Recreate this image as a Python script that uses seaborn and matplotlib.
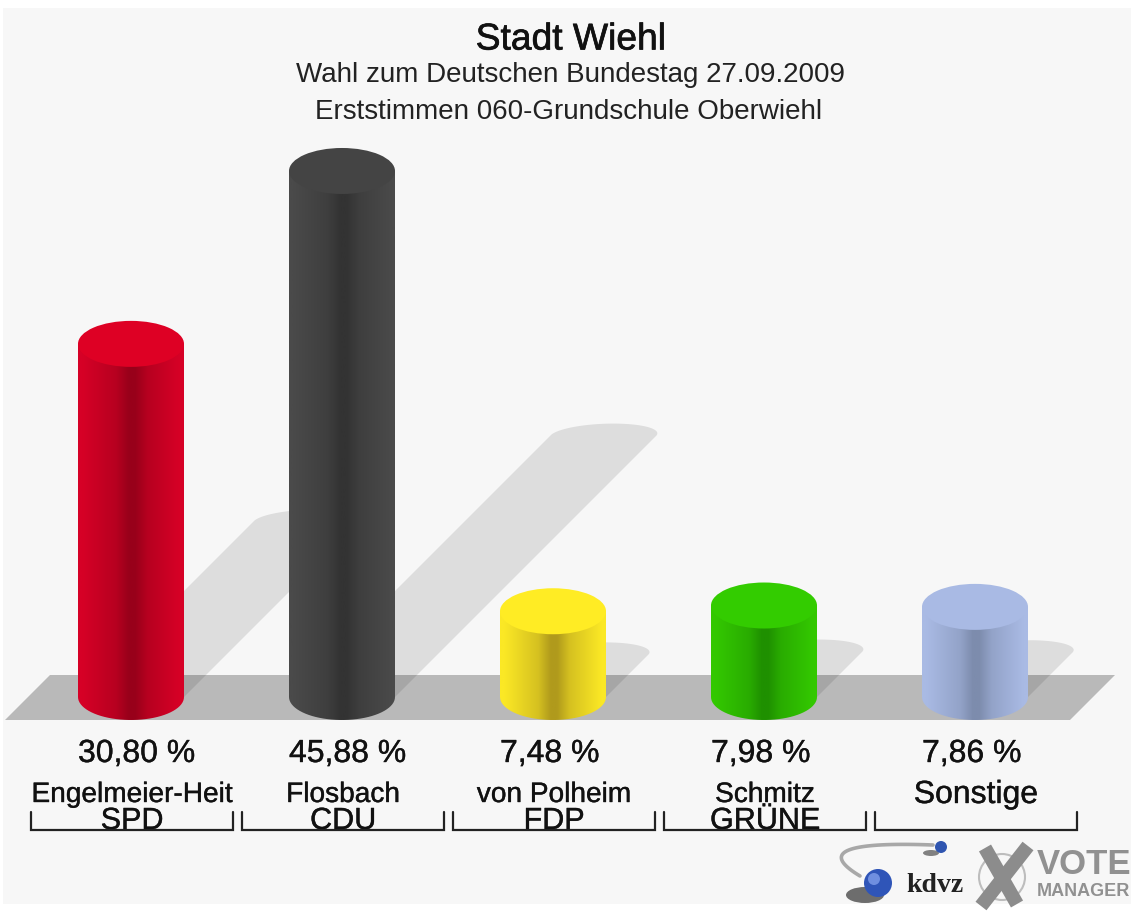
import numpy as np
import matplotlib
matplotlib.use("Agg")
import matplotlib.pyplot as plt
import matplotlib.patheffects as pe
import seaborn as sns
from matplotlib.colors import LinearSegmentedColormap, to_rgb
from matplotlib.patches import Ellipse, PathPatch, Polygon, Rectangle, Circle
from matplotlib.path import Path
from matplotlib.transforms import Affine2D

# ---- data ----
candidates = ["Engelmeier-Heit", "Flosbach", "von Polheim", "Schmitz", "Sonstige"]
parties = ["SPD", "CDU", "FDP", "GRÜNE", ""]
values = [30.80, 45.88, 7.48, 7.98, 7.86]
top_colors = ["#de0024", "#444444", "#ffec24", "#33cc00", "#a9bae4"]
center_colors = ["#98001a", "#333333", "#b09a1c", "#1f9000", "#7d8cad"]
edge_colors = ["#d60026", "#4a4a4a", "#fbe825", "#33c800", "#a9bae4"]
title = "Stadt Wiehl"
subtitle1 = "Wahl zum Deutschen Bundestag 27.09.2009"
subtitle2 = "Erststimmen 060-Grundschule Oberwiehl"

W, H = 1131, 911
SPACING = 211.0   # px per category
X0 = 131.0        # px of first category
Y0 = 697.0        # px of value zero
UNIT = 11.465     # px per percent
BAR_W = 106 / SPACING
CAP = 46 / UNIT   # ellipse full height in data units
FONT = "Liberation Sans"

sns.set_theme(style="white", rc={"font.family": FONT})
fig = plt.figure(figsize=(W / 100, H / 100), dpi=100, facecolor="white")
ax = fig.add_axes([0, 0, 1, 1])
ax.set_axis_off()
px = Affine2D().scale(1, -1).translate(0, H)  # pixel frame for page furniture
heavy = [pe.withStroke(linewidth=0.3, foreground="#222222")]

# page background and ground plane
ax.add_patch(Rectangle((3, 8), W, 896, transform=px, fc="#f7f7f7", ec="none", zorder=0))
ax.add_patch(Polygon([(50, 675), (1115, 675), (1070, 720), (5, 720)], transform=px,
                     fc="#b9b9b9", ec="none", zorder=1))

sns.barplot(x=candidates, y=values, hue=candidates, palette=top_colors, width=BAR_W,
            dodge=False, legend=False, ax=ax, saturation=1, zorder=3)

xlim = (-X0 / SPACING, (W - X0) / SPACING)
ylim = (-(H - Y0) / UNIT, Y0 / UNIT)

bars = sorted([b for c in ax.containers for b in c], key=lambda p: p.get_x())
bars = [b for b in bars if b.get_height() > 0]
for i, bar in enumerate(bars):
    left, w, h = bar.get_x(), bar.get_width(), bar.get_height()
    cx = left + w / 2
    bar.set_visible(False)

    # cast shadow: 45-degree band with a shallow skewed cap
    shift_y = 0.497 * h
    shift_x = shift_y * UNIT / SPACING
    t = np.linspace(np.pi, 0, 40)
    cap_x = cx + shift_x + w / 2 * np.cos(t) + (10 / SPACING) * np.sin(t)
    cap_y = shift_y + (12 / UNIT) * np.sin(t)
    poly = np.column_stack([np.r_[cx - w / 2, cap_x, cx + w / 2], np.r_[0, cap_y, 0]])
    ax.add_patch(Polygon(poly, fc="black", alpha=0.10, ec="none", zorder=2))

    # cylinder body with horizontal gradient
    t = np.linspace(0, -np.pi, 40)
    bx = cx + w / 2 * np.cos(t)
    by = CAP / 2 * np.sin(t)
    outline = np.column_stack([np.r_[left, left + w, bx], np.r_[h, h, by]])
    clip = PathPatch(Path(np.vstack([outline, outline[0]])), transform=ax.transData, fc="none", ec="none")
    ax.add_patch(clip)
    e, c = np.array(to_rgb(edge_colors[i])), np.array(to_rgb(center_colors[i]))
    mid = tuple(0.5 * e + 0.5 * c)
    cmap = LinearSegmentedColormap.from_list(
        f"c{i}", [(0, tuple(e)), (0.04, tuple(e)), (0.36, mid), (0.48, tuple(c)), (0.54, tuple(c)),
                  (0.66, mid), (0.96, tuple(e)), (1, tuple(e))])
    im = ax.imshow(np.linspace(0, 1, 256)[None, :], cmap=cmap, aspect="auto", zorder=3,
                   extent=(left, left + w, -CAP, h), interpolation="bilinear")
    im.set_clip_path(clip)

    # top face
    ax.add_patch(Ellipse((cx, h), w, CAP, fc=top_colors[i], ec="none", zorder=4))

    # value label (starts at the bar's left edge), candidate, party bracket
    ax.text(left, -(754 - Y0) / UNIT, f"{values[i]:.2f} %".replace(".", ","), ha="left", va="center",
            fontsize=23, color="#111111", fontfamily=FONT, path_effects=heavy)
    big = parties[i] == ""
    ax.text(i + 1 / SPACING, -(795 - Y0) / UNIT, candidates[i], ha="center", va="center",
            fontsize=23 if big else 20.2, color="#111111", fontfamily=FONT, path_effects=heavy)
    if parties[i]:
        ax.text(i + 1 / SPACING, -(821 - Y0) / UNIT, parties[i], ha="center", va="center",
                fontsize=22, color="#111111", fontfamily=FONT, path_effects=heavy)
    lo, hi = X0 + i * SPACING - 100, X0 + i * SPACING + 102
    ax.plot([lo, lo, hi, hi], [812, 830, 830, 812], transform=px, color="#222222", lw=1.6,
            solid_joinstyle="miter", zorder=5)

ax.set_xlim(*xlim)
ax.set_ylim(*ylim)
ax.set_xlabel("")
ax.set_ylabel("")

# titles
ax.text(571, 40, title, transform=px, ha="center", va="center", fontsize=26.8, color="#111111",
        fontfamily=FONT, path_effects=[pe.withStroke(linewidth=0.5, foreground="#111111")])
ax.text(571, 75, subtitle1, transform=px, ha="center", va="center", fontsize=20, color="#222222", fontfamily=FONT)
ax.text(569, 112, subtitle2, transform=px, ha="center", va="center", fontsize=20, color="#222222", fontfamily=FONT)

# logo
t = np.linspace(0, 1, 40)
sw = np.column_stack([(1 - t) ** 2 * 933 + 2 * t * (1 - t) * 800 + t ** 2 * 860,
                      (1 - t) ** 2 * 845 + 2 * t * (1 - t) * 840 + t ** 2 * 876])
ax.plot(sw[:, 0], sw[:, 1], transform=px, color="#a8a8a8", lw=2.6, zorder=5)
ax.add_patch(Ellipse((931, 853), 16, 6, angle=0, transform=px, fc="#333333", alpha=0.6, ec="none", zorder=5))
ax.add_patch(Circle((941, 847), 6, transform=px, fc="#2f55b0", ec="none", zorder=6))
ax.add_patch(Ellipse((865, 895), 38, 16, transform=px, fc="#333333", alpha=0.7, ec="none", zorder=5))
ax.add_patch(Circle((878, 883), 14, transform=px, fc="#2f55b8", ec="none", zorder=6))
ax.add_patch(Circle((874, 879), 6, transform=px, fc="#6f8fe0", ec="none", zorder=6))
ax.text(935, 885, "kdvz", transform=px, ha="center", va="center", fontsize=20, fontweight="bold",
        fontfamily="Liberation Serif", color="#222222", zorder=6)
ax.add_patch(Circle((1002, 877), 23, transform=px, fc="none", ec="#bdbdbd", lw=1.5, zorder=5))
ax.plot([985, 1017], [848, 904], transform=px, color="#8c8c8c", lw=10, solid_capstyle="butt", zorder=6)
ax.plot([1028, 981], [846, 906], transform=px, color="#8c8c8c", lw=10, solid_capstyle="butt", zorder=6)
ax.text(1037, 864, "VOTE", transform=px, ha="left", va="center", fontsize=25, fontweight="bold",
        color="#919191", fontfamily=FONT, zorder=6)
ax.text(1037, 891, "MANAGER", transform=px, ha="left", va="center", fontsize=13, fontweight="bold",
        color="#919191", fontfamily=FONT, zorder=6)

fig.savefig("out.png", dpi=100)
